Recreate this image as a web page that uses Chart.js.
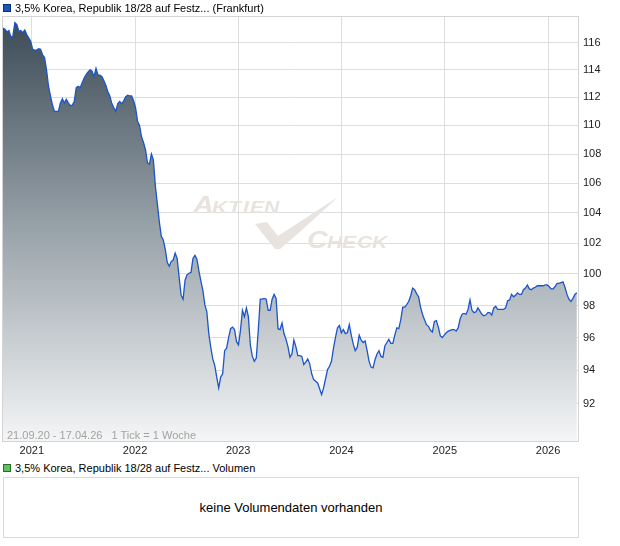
<!DOCTYPE html>
<html>
<head>
<meta charset="utf-8">
<script src="https://cdn.jsdelivr.net/npm/chart.js@4.4.1/dist/chart.umd.min.js"></script>
<style>
  body { margin: 0; background: #fff; font-family: "Liberation Sans", Arial, sans-serif; }
  #wrap { position: relative; width: 620px; height: 546px; overflow: hidden; }
  #main { position: absolute; left: 0; top: 0; }
  .lg { position: absolute; left: 3px; font-size: 11px; line-height: 12px; color: #000; white-space: nowrap; }
  .sq { display: inline-block; width: 6px; height: 6px; margin-right: 4px; vertical-align: 0px; }
  #range { position: absolute; left: 7px; top: 429px; font-size: 11px; line-height: 12px; color: #a3a3a3; white-space: nowrap; }
  #volbox { position: absolute; left: 3px; top: 477px; width: 574px; height: 59px; border: 1px solid #d9d9d9;
            font-size: 13px; color: #000; text-align: center; line-height: 59px; }
</style>
</head>
<body>
<div id="wrap">
  <canvas id="main" width="620" height="462"></canvas>
  <div class="lg" style="top:2px"><span class="sq" style="background:#1c53c0;border:1px solid #0e2f73"></span>3,5% Korea, Republik 18/28 auf Festz... (Frankfurt)</div>
  <div id="range">21.09.20 - 17.04.26&nbsp;&nbsp; 1 Tick = 1 Woche</div>
  <div class="lg" style="top:462px"><span class="sq" style="background:#5fc25f;border:1px solid #2c6b2c"></span>3,5% Korea, Republik 18/28 auf Festz... Volumen</div>
  <div id="volbox">keine Volumendaten vorhanden</div>
</div>
<script>
// weekly closes, first week starting 21.09.2020
const weekStart = Date.UTC(2020, 8, 21);
const rangeStart = Date.UTC(2020, 8, 21);
const rangeEnd = Date.UTC(2026, 3, 17);
const yearTicks = [2021, 2022, 2023, 2024, 2025, 2026];
const priceTicks = [92, 94, 96, 98, 100, 102, 104, 106, 108, 110, 112, 114, 116];
const prices = [
  117.1, 117.0, 116.8, 116.9, 116.4, 116.5, 117.5, 117.35, 116.85, 116.9,
  116.75, 116.95, 116.6, 116.35, 116.1, 115.5, 115.45, 115.45, 115.55, 115.5,
  115.1, 114.9, 114.0, 112.8, 112.1, 111.45, 111.0, 111.0, 111.0, 111.6,
  111.9, 111.6, 111.85, 111.6, 111.4, 111.45, 111.7, 112.7, 112.8, 112.7,
  113.05, 113.4, 113.65, 113.85, 114.0, 113.9, 113.5, 114.1, 113.6, 113.6,
  113.5, 113.2, 112.85, 112.4, 112.1, 111.55, 111.25, 111.0, 111.55, 111.7,
  111.55, 111.75, 112.05, 112.15, 112.1, 112.1, 111.75, 111.25, 110.3, 110.0,
  109.2, 108.8, 108.3, 107.4, 107.3, 108.0, 107.6, 105.8, 104.6, 103.4,
  102.45, 102.2, 101.6, 100.75, 100.5, 100.8, 100.9, 101.35, 101.0, 99.8,
  98.65, 98.4, 99.6, 99.95, 100.05, 100.1, 101.0, 101.2, 100.95, 100.2,
  99.55, 98.95, 98.05, 97.6, 96.25, 95.4, 94.7, 94.3, 93.6, 92.95,
  93.6, 93.8, 95.2, 95.35, 96.0, 96.55, 96.65, 96.5, 95.75, 95.55,
  96.45, 97.7, 97.3, 97.85, 97.3, 95.55, 94.85, 94.55, 94.75, 96.45,
  98.4, 98.4, 98.45, 98.4, 97.7, 97.7, 98.4, 98.7, 98.45, 96.55,
  96.5, 96.9, 96.25, 95.9, 95.45, 94.8, 95.0, 95.85, 95.45, 94.9,
  94.9, 94.85, 94.35, 94.5, 94.7, 94.4, 93.8, 93.45, 93.35, 93.25,
  92.9, 92.55, 92.95, 93.5, 94.05, 94.25, 94.55, 95.35, 96.0, 96.6,
  96.75, 96.3, 96.5, 96.25, 96.3, 96.8, 96.15, 95.6, 95.2, 95.4,
  96.15, 95.85, 95.7, 95.8, 95.2, 94.55, 94.2, 94.15, 94.65, 95.0,
  95.2, 94.85, 94.8, 95.5, 95.7, 95.9, 95.65, 95.65, 96.15, 96.6,
  96.55, 97.1, 97.9, 97.9, 98.05, 98.25, 98.6, 99.1, 99.0, 98.75,
  98.55, 97.9, 97.45, 97.1, 96.8, 96.7, 96.45, 96.35, 97.0, 97.05,
  96.65, 96.1, 96.0, 96.15, 96.3, 96.4, 96.45, 96.5, 96.5, 96.4,
  96.6, 97.15, 97.45, 97.5, 97.45, 97.75, 98.35, 97.7, 97.55, 97.6,
  97.85, 97.65, 97.45, 97.35, 97.4, 97.55, 97.55, 97.4, 97.85, 97.95,
  97.75, 97.75, 97.75, 97.75, 97.85, 98.3, 98.35, 98.7, 98.55, 98.65,
  98.8, 98.7, 98.7, 99.0, 99.1, 99.3, 99.05, 99.0, 99.1, 99.15,
  99.25, 99.25, 99.25, 99.25, 99.3, 99.3, 99.2, 99.05, 99.05, 99.2,
  99.4, 99.4, 99.45, 99.5, 99.15, 98.7, 98.4, 98.25, 98.45, 98.7, 98.8
];

const DAY = 86400000;
const points = prices.map((p, i) => ({ x: weekStart + i * 7 * DAY, y: p }));
const FONT = '"Liberation Sans", Arial, sans-serif';
Chart.defaults.font.family = FONT;

// faint "Aktien Check" logo behind the line
const watermark = {
  id: 'watermark',
  beforeDatasetsDraw(chart) {
    const c = chart.ctx;
    c.save();
    c.fillStyle = '#e8e3de';
    c.textBaseline = 'alphabetic';
    const put = (ch, x, y, size) => {
      c.font = 'italic bold ' + size + 'px ' + FONT;
      c.save();
      c.translate(x, y);
      c.scale(1.25, 1);
      c.fillText(ch, 0, 0);
      c.restore();
    };
    put('A', 193, 213, 23);
    [['K', 212], ['T', 228], ['I', 243], ['E', 250], ['N', 264]].forEach(l => put(l[0], l[1], 213, 17));
    put('C', 307, 248, 23);
    [['H', 327], ['E', 342], ['C', 357], ['K', 372]].forEach(l => put(l[0], l[1], 248, 17));
    // check mark
    c.beginPath();
    c.moveTo(255, 224);
    c.lineTo(267, 222);
    c.lineTo(278, 236);
    c.lineTo(338, 197);
    c.lineTo(302, 230);
    c.lineTo(280, 249);
    c.lineTo(275, 249);
    c.closePath();
    c.fill();
    c.restore();
  }
};

// thin frame round the plot
const frame = {
  id: 'frame',
  afterDraw(chart) {
    const a = chart.chartArea, c = chart.ctx;
    c.save();
    c.strokeStyle = '#d4d4d4';
    c.lineWidth = 1;
    c.strokeRect(a.left - 0.5, a.top + 0.5, a.right - a.left + 1, a.bottom - a.top);
    c.restore();
  }
};

new Chart(document.getElementById('main'), {
  type: 'line',
  data: {
    datasets: [{
      data: points,
      borderColor: '#1c55c6',
      borderWidth: 1.3,
      pointRadius: 0,
      tension: 0,
      fill: 'start',
      backgroundColor: ctx => {
        const a = ctx.chart.chartArea;
        if (!a) return 'transparent';
        const g = ctx.chart.ctx.createLinearGradient(0, a.top, 0, a.bottom);
        g.addColorStop(0, '#3a4955');
        g.addColorStop(0.5, '#98a2a9');
        g.addColorStop(1, '#f4f5f6');
        return g;
      }
    }]
  },
  options: {
    responsive: false,
    animation: false,
    devicePixelRatio: 1,
    layout: { padding: { left: 3, top: 16, right: 0, bottom: 0 } },
    plugins: { legend: { display: false }, tooltip: { enabled: false } },
    scales: {
      x: {
        type: 'linear',
        bounds: 'data',
        min: rangeStart,
        max: rangeEnd,
        afterBuildTicks: s => { s.ticks = yearTicks.map(y => ({ value: Date.UTC(y, 0, 1) })); },
        afterFit: s => { s.height = 21; },
        grid: { color: '#dedede', drawTicks: false },
        border: { display: false },
        ticks: {
          callback: v => String(new Date(v).getUTCFullYear()),
          autoSkip: false, maxRotation: 0, padding: 3,
          color: '#222', font: { size: 11 }
        }
      },
      y: {
        type: 'logarithmic',
        position: 'right',
        bounds: 'data',
        min: 89.84,
        max: 118.0,
        afterBuildTicks: s => { s.ticks = priceTicks.map(v => ({ value: v })); },
        afterFit: s => { s.width = 42; },
        grid: { color: '#dedede', drawTicks: false },
        border: { display: false },
        ticks: {
          callback: v => String(v),
          autoSkip: false, padding: 5,
          color: '#222', font: { size: 11 }
        }
      }
    }
  },
  plugins: [watermark, frame]
});
</script>
</body>
</html>
